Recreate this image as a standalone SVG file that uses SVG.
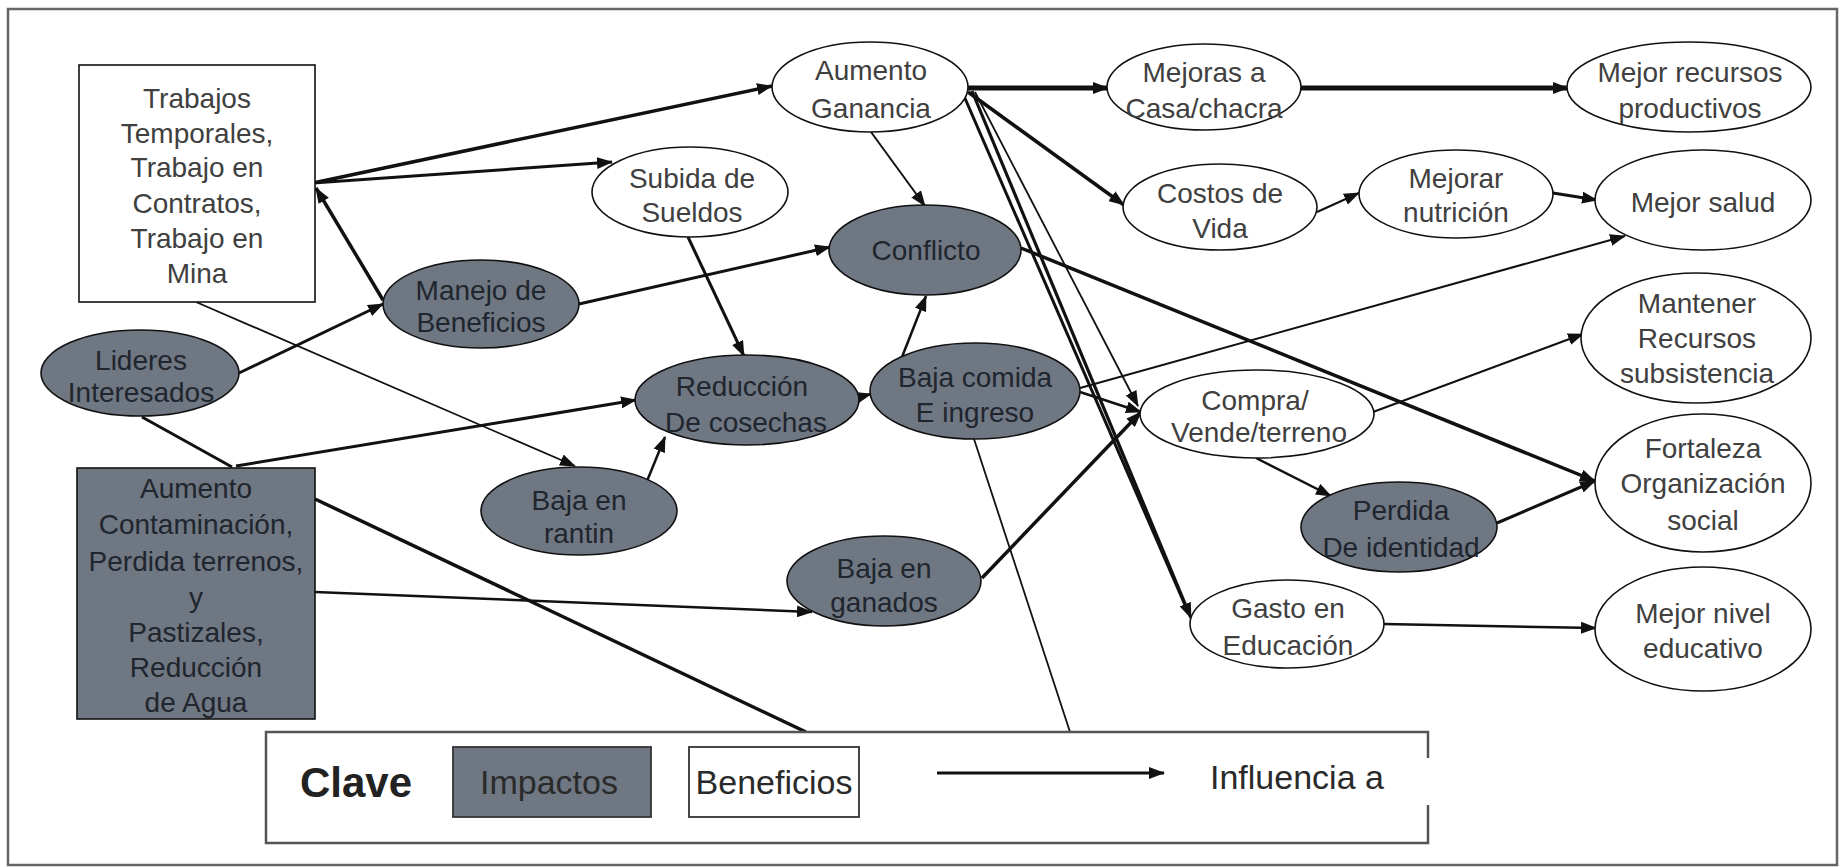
<svg xmlns="http://www.w3.org/2000/svg" width="1843" height="867" viewBox="0 0 1843 867">
<style>
.t{font-family:"Liberation Sans",Arial,sans-serif;font-size:28px;text-anchor:middle}
.tw{fill:#404040}
.tg{fill:#20252e}
.nw{fill:#ffffff;stroke:#111;stroke-width:1.6}
.ng{fill:#6f7782;stroke:#111;stroke-width:1.6}
.c line{stroke:#111;fill:none}
.a{marker-end:url(#ah)}
.lg{font-family:"Liberation Sans",Arial,sans-serif;font-size:34px;fill:#2a2a2a}
</style>
<defs>
<marker id="ah" markerUnits="userSpaceOnUse" markerWidth="16" markerHeight="12" refX="15" refY="6" orient="auto">
<path d="M0,0 L16,6 L0,12 z" fill="#111"/>
</marker>
</defs>
<rect x="0" y="0" width="1843" height="867" fill="#ffffff"/>
<rect x="8" y="9" width="1829" height="856" fill="none" stroke="#666" stroke-width="2.5"/>

<g id="connectors" class="c">
<line class="a" x1="313" y1="183" x2="772" y2="86" stroke-width="3.5"/>
<line class="a" x1="313" y1="183" x2="612" y2="162" stroke-width="3"/>
<line class="a" x1="383" y1="300" x2="316" y2="188" stroke-width="3.5"/>
<line class="a" x1="239" y1="373" x2="383" y2="304" stroke-width="3"/>
<line class="a" x1="196" y1="302" x2="575" y2="466" stroke-width="1.8"/>
<line x1="142" y1="417" x2="232" y2="467" stroke-width="3"/>
<line class="a" x1="236" y1="466" x2="636" y2="400" stroke-width="3"/>
<line x1="315" y1="499" x2="806" y2="732" stroke-width="3.5"/>
<line class="a" x1="315" y1="592" x2="812" y2="612" stroke-width="2.5"/>
<line class="a" x1="579" y1="304" x2="830" y2="247" stroke-width="3"/>
<line class="a" x1="688" y1="237" x2="744" y2="356" stroke-width="3"/>
<line class="a" x1="871" y1="132" x2="925" y2="206" stroke-width="2"/>
<line class="a" x1="902" y1="357" x2="926" y2="296" stroke-width="2.5"/>
<line class="a" x1="852" y1="399" x2="871" y2="394" stroke-width="2.5"/>
<line class="a" x1="647" y1="481" x2="665" y2="437" stroke-width="2.5"/>
<line class="a" x1="1080" y1="392" x2="1141" y2="412" stroke-width="2.5"/>
<line class="a" x1="982" y1="578" x2="1141" y2="412" stroke-width="3.5"/>
<line class="a" x1="1080" y1="388" x2="1625" y2="236" stroke-width="2"/>
<line class="a" x1="1021" y1="248" x2="1595" y2="481" stroke-width="3.5"/>
<line class="a" x1="968" y1="88" x2="1108" y2="88" stroke-width="5"/>
<line class="a" x1="1301" y1="88" x2="1568" y2="88" stroke-width="5"/>
<line class="a" x1="968" y1="92" x2="1124" y2="205" stroke-width="3.5"/>
<line class="a" x1="972" y1="91" x2="1191" y2="618" stroke-width="3.2"/>
<line x1="964" y1="96" x2="1188" y2="612" stroke-width="3"/>
<line class="a" x1="975" y1="92" x2="1138" y2="406" stroke-width="1.8"/>
<line class="a" x1="1317" y1="212" x2="1359" y2="193" stroke-width="2"/>
<line class="a" x1="1553" y1="193" x2="1597" y2="200" stroke-width="3"/>
<line class="a" x1="1373" y1="412" x2="1583" y2="334" stroke-width="2"/>
<line class="a" x1="1256" y1="458" x2="1331" y2="496" stroke-width="2.5"/>
<line class="a" x1="1497" y1="523" x2="1595" y2="481" stroke-width="3"/>
<line class="a" x1="1384" y1="624" x2="1596" y2="628" stroke-width="2.5"/>
<line x1="974" y1="439" x2="1070" y2="732" stroke-width="1.8"/>
</g>

<g id="n-trabajos">
<rect class="nw" x="79" y="65" width="236" height="237"/>
<text class="t tw" x="197" y="108">Trabajos</text>
<text class="t tw" x="197" y="143">Temporales,</text>
<text class="t tw" x="197" y="177">Trabajo en</text>
<text class="t tw" x="197" y="213">Contratos,</text>
<text class="t tw" x="197" y="248">Trabajo en</text>
<text class="t tw" x="197" y="283">Mina</text>
</g>
<g id="n-contaminacion">
<rect class="ng" x="77" y="468" width="238" height="251"/>
<text class="t tg" x="196" y="498">Aumento</text>
<text class="t tg" x="196" y="534">Contaminación,</text>
<text class="t tg" x="196" y="571">Perdida terrenos,</text>
<text class="t tg" x="196" y="607">y</text>
<text class="t tg" x="196" y="642">Pastizales,</text>
<text class="t tg" x="196" y="677">Reducción</text>
<text class="t tg" x="196" y="712">de Agua</text>
</g>
<g id="n-lideres">
<ellipse class="ng" cx="140" cy="373" rx="99" ry="43"/>
<text class="t tg" x="141" y="370">Lideres</text>
<text class="t tg" x="141" y="402">Interesados</text>
</g>
<g id="n-manejo">
<ellipse class="ng" cx="481" cy="304" rx="98" ry="44"/>
<text class="t tg" x="481" y="300">Manejo de</text>
<text class="t tg" x="481" y="332">Beneficios</text>
</g>
<g id="n-ganancia">
<ellipse class="nw" cx="870" cy="87" rx="98" ry="45"/>
<text class="t tw" x="871" y="80">Aumento</text>
<text class="t tw" x="871" y="118">Ganancia</text>
</g>
<g id="n-sueldos">
<ellipse class="nw" cx="690" cy="192" rx="98" ry="45"/>
<text class="t tw" x="692" y="188">Subida de</text>
<text class="t tw" x="692" y="222">Sueldos</text>
</g>
<g id="n-conflicto">
<ellipse class="ng" cx="925" cy="250" rx="96" ry="45"/>
<text class="t tg" x="926" y="260">Conflicto</text>
</g>
<g id="n-mejoras">
<ellipse class="nw" cx="1204" cy="87" rx="97" ry="43"/>
<text class="t tw" x="1204" y="82">Mejoras a</text>
<text class="t tw" x="1204" y="118">Casa/chacra</text>
</g>
<g id="n-recursos">
<ellipse class="nw" cx="1689" cy="87" rx="122" ry="45"/>
<text class="t tw" x="1690" y="82">Mejor recursos</text>
<text class="t tw" x="1690" y="118">productivos</text>
</g>
<g id="n-costos">
<ellipse class="nw" cx="1220" cy="207" rx="97" ry="43"/>
<text class="t tw" x="1220" y="203">Costos de</text>
<text class="t tw" x="1220" y="238">Vida</text>
</g>
<g id="n-nutricion">
<ellipse class="nw" cx="1456" cy="194" rx="97" ry="44"/>
<text class="t tw" x="1456" y="188">Mejorar</text>
<text class="t tw" x="1456" y="222">nutrición</text>
</g>
<g id="n-salud">
<ellipse class="nw" cx="1703" cy="200" rx="108" ry="50"/>
<text class="t tw" x="1703" y="212">Mejor salud</text>
</g>
<g id="n-mantener">
<ellipse class="nw" cx="1696" cy="338" rx="115" ry="65"/>
<text class="t tw" x="1697" y="313">Mantener</text>
<text class="t tw" x="1697" y="348">Recursos</text>
<text class="t tw" x="1697" y="383">subsistencia</text>
</g>
<g id="n-fortaleza">
<ellipse class="nw" cx="1703" cy="483" rx="108" ry="69"/>
<text class="t tw" x="1703" y="458">Fortaleza</text>
<text class="t tw" x="1703" y="493">Organización</text>
<text class="t tw" x="1703" y="530">social</text>
</g>
<g id="n-nivel">
<ellipse class="nw" cx="1703" cy="629" rx="108" ry="62"/>
<text class="t tw" x="1703" y="623">Mejor nivel</text>
<text class="t tw" x="1703" y="658">educativo</text>
</g>
<g id="n-gasto">
<ellipse class="nw" cx="1287" cy="624" rx="97" ry="44"/>
<text class="t tw" x="1288" y="618">Gasto en</text>
<text class="t tw" x="1288" y="655">Educación</text>
</g>
<g id="n-perdida">
<ellipse class="ng" cx="1399" cy="527" rx="98" ry="45"/>
<text class="t tg" x="1401" y="520">Perdida</text>
<text class="t tg" x="1401" y="557">De identidad</text>
</g>
<g id="n-compra">
<ellipse class="nw" cx="1257" cy="414" rx="117" ry="44"/>
<text class="t tw" x="1255" y="410">Compra/</text>
<text class="t tw" x="1259" y="442">Vende/terreno</text>
</g>
<g id="n-comida">
<ellipse class="ng" cx="975" cy="391" rx="105" ry="48"/>
<text class="t tg" x="975" y="387">Baja comida</text>
<text class="t tg" x="975" y="422">E ingreso</text>
</g>
<g id="n-reduccion">
<ellipse class="ng" cx="747" cy="400" rx="112" ry="45"/>
<text class="t tg" x="742" y="396">Reducción</text>
<text class="t tg" x="746" y="432">De cosechas</text>
</g>
<g id="n-rantin">
<ellipse class="ng" cx="579" cy="511" rx="98" ry="44"/>
<text class="t tg" x="579" y="510">Baja en</text>
<text class="t tg" x="579" y="543">rantin</text>
</g>
<g id="n-ganados">
<ellipse class="ng" cx="884" cy="581" rx="97" ry="45"/>
<text class="t tg" x="884" y="578">Baja en</text>
<text class="t tg" x="884" y="612">ganados</text>
</g>

<g id="legend">
<rect x="266" y="732" width="1162" height="111" fill="#ffffff"/>
<path d="M1428,758 V732 H266 V843 H1428 V805" fill="none" stroke="#555" stroke-width="2.5"/>
<text x="300" y="797" font-family="Liberation Sans,Arial,sans-serif" font-size="42" font-weight="bold" fill="#222">Clave</text>
<rect x="453" y="747" width="198" height="70" fill="#6f7782" stroke="#333" stroke-width="1.8"/>
<text class="lg" x="549" y="794" text-anchor="middle" fill="#20252e">Impactos</text>
<rect x="689" y="747" width="170" height="70" fill="#ffffff" stroke="#333" stroke-width="1.8"/>
<text class="lg" x="774" y="794" text-anchor="middle">Beneficios</text>
<line class="a" x1="937" y1="773" x2="1164" y2="773" stroke="#111" stroke-width="3"/>
<text class="lg" x="1210" y="789">Influencia a</text>
</g>
</svg>
